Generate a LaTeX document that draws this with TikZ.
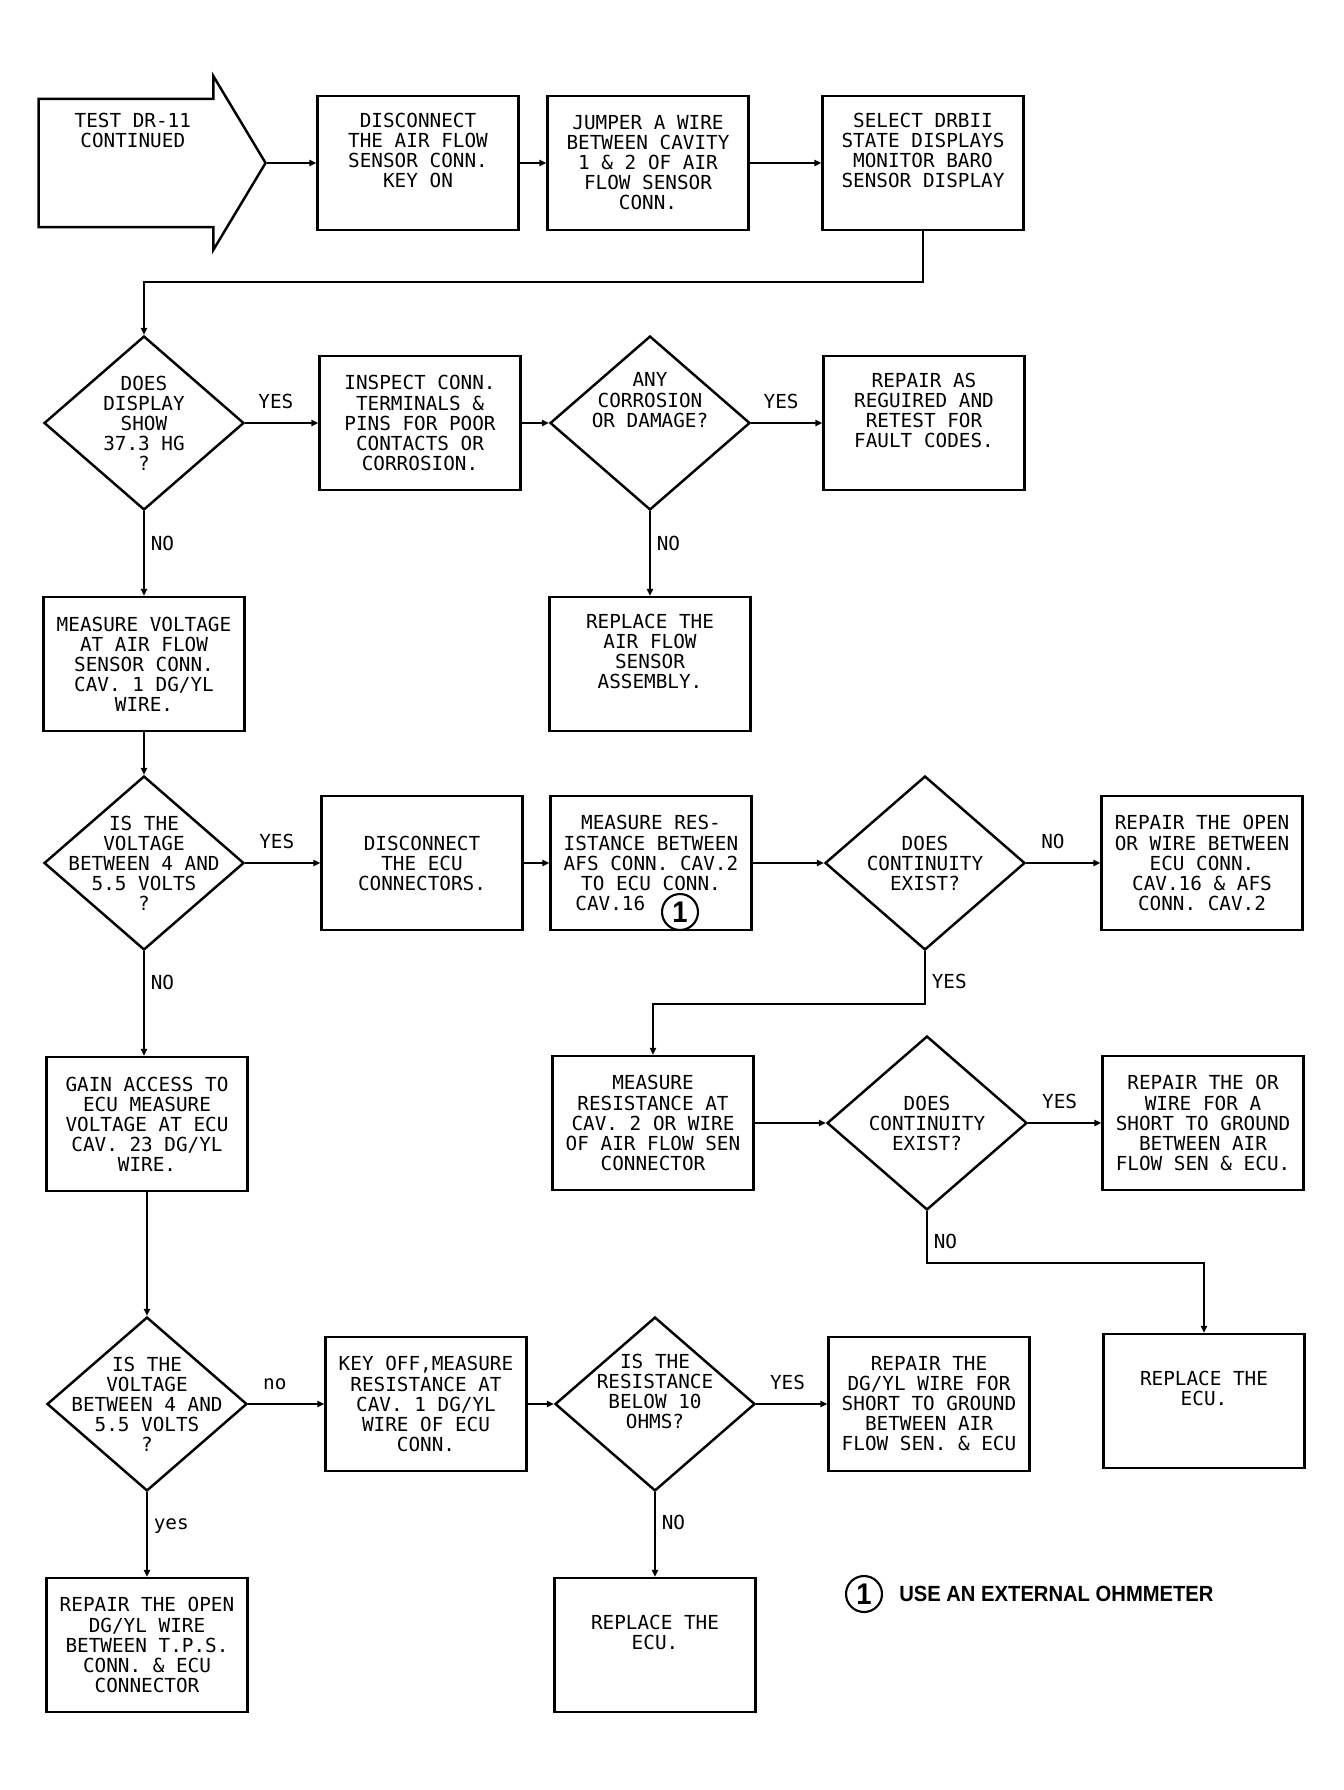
\documentclass[tikz,border=0pt]{standalone}
\usepackage{fontspec}
\usepackage{tikz}
\usetikzlibrary{positioning, arrows.meta, shapes.geometric, shapes.arrows}
\newfontfamily\plotfont{DejaVu Sans Mono}
\newfontfamily\notefont[FakeStretch=0.92]{Liberation Sans}
\newcommand{\flowfont}{\plotfont\fontsize{11pt}{11.4pt}\selectfont}
\tikzset{
  stepbox/.style={
    draw,
    line width=1.4pt,
    minimum width=4.02cm,
    minimum height=2.68cm,
    inner sep=2pt,
    align=center,
    font=\flowfont
  },
  query/.style={
    draw,
    diamond,
    aspect=1.15,
    line width=1.4pt,
    minimum width=4.0cm,
    minimum height=3.48cm,
    inner sep=-12pt,
    align=center,
    font=\flowfont
  },
  entry/.style={
    draw,
    single arrow,
    single arrow tip angle=118,
    single arrow head extend=0.39cm,
    line width=1.4pt,
    minimum height=4.54cm,
    minimum width=3.48cm,
    inner sep=2pt,
    align=center,
    font=\flowfont
  },
  ohmmark/.style={
    draw,
    circle,
    line width=1.2pt,
    minimum size=0.72cm,
    inner sep=0pt,
    font=\notefont\bfseries\fontsize{17pt}{17pt}\selectfont
  },
  flowline/.style={
    draw,
    -{Triangle[length=4pt,width=3.6pt]},
    line width=1.1pt,
    font=\flowfont
  },
  every edge/.style={flowline}
}

\begin{document}
\begin{tikzpicture}[x=0.02cm, y=-0.02cm]
  \useasboundingbox (0,0) rectangle (1344,1790);

  % top row
  \node[entry, anchor=tip] (start) at (267,163) {TEST DR-11\\CONTINUED\\\strut\\\strut\\\strut};
  \node[stepbox] (unplug) at (418,163) {DISCONNECT\\THE AIR FLOW\\SENSOR CONN.\\KEY ON\\\strut};
  \node[stepbox] (jumper) at (648,163) {JUMPER A WIRE\\BETWEEN CAVITY\\1 \& 2 OF AIR\\FLOW SENSOR\\CONN.};
  \node[stepbox] (baro) at (923,163) {SELECT DRBII\\STATE DISPLAYS\\MONITOR BARO\\SENSOR DISPLAY\\\strut};

  % baro reading
  \node[query] (showhg) at (144,423) {DOES\\DISPLAY\\SHOW\\37.3 HG\\?};
  \node[stepbox] (inspect) at (420,423) {INSPECT CONN.\\TERMINALS \&\\PINS FOR POOR\\CONTACTS OR\\CORROSION.};
  \node[query] (corrode) at (650,423) {ANY\\CORROSION\\OR DAMAGE?\\\strut\\\strut};
  \node[stepbox] (retest) at (924,423) {REPAIR AS\\REGUIRED AND\\RETEST FOR\\FAULT CODES.\\\strut};
  \node[stepbox] (measvolt) at (144,664) {MEASURE VOLTAGE\\AT AIR FLOW\\SENSOR CONN.\\CAV. 1 DG/YL\\WIRE.};
  \node[stepbox] (newafs) at (650,664) {REPLACE THE\\AIR FLOW\\SENSOR\\ASSEMBLY.\\\strut};

  % voltage at sensor
  \node[query] (voltafs) at (144,863) {IS THE\\VOLTAGE\\BETWEEN 4 AND\\5.5 VOLTS\\?};
  \node[stepbox] (unplugecu) at (422,863) {DISCONNECT\\THE ECU\\CONNECTORS.};
  \node[stepbox] (ohmsig) at (651,863) {MEASURE RES-\\ISTANCE BETWEEN\\AFS CONN. CAV.2\\TO ECU CONN.\\CAV.16\phantom{1234567}};
  \node[ohmmark] (ohma) at (680,912) {1};
  \node[query] (contsig) at (925,863) {DOES\\CONTINUITY\\EXIST?};
  \node[stepbox] (fixopen) at (1202,863) {REPAIR THE OPEN\\OR WIRE BETWEEN\\ECU CONN.\\CAV.16 \& AFS\\CONN. CAV.2};

  % short to ground
  \node[stepbox] (ecuvolt) at (147,1124) {GAIN ACCESS TO\\ECU MEASURE\\VOLTAGE AT ECU\\CAV. 23 DG/YL\\WIRE.};
  \node[stepbox] (ohmgnd) at (653,1123) {MEASURE\\RESISTANCE AT\\CAV. 2 OR WIRE\\OF AIR FLOW SEN\\CONNECTOR};
  \node[query] (contgnd) at (927,1123) {DOES\\CONTINUITY\\EXIST?};
  \node[stepbox] (fixshort) at (1203,1123) {REPAIR THE OR\\WIRE FOR A\\SHORT TO GROUND\\BETWEEN AIR\\FLOW SEN \& ECU.};
  \node[stepbox] (newecua) at (1204,1401) {REPLACE THE\\ECU.\\\strut};

  % voltage at ecu
  \node[query] (voltecu) at (147,1404) {IS THE\\VOLTAGE\\BETWEEN 4 AND\\5.5 VOLTS\\?};
  \node[stepbox] (keyoff) at (426,1404) {KEY OFF,MEASURE\\RESISTANCE AT\\CAV. 1 DG/YL\\WIRE OF ECU\\CONN.};
  \node[query] (below10) at (655,1404) {IS THE\\RESISTANCE\\BELOW 10\\OHMS?\\\strut};
  \node[stepbox] (fixdgyl) at (929,1404) {REPAIR THE\\DG/YL WIRE FOR\\SHORT TO GROUND\\BETWEEN AIR\\FLOW SEN. \& ECU};
  \node[stepbox] (newecub) at (655,1645) {REPLACE THE\\ECU.\\\strut};
  \node[stepbox] (fixtps) at (147,1645) {REPAIR THE OPEN\\DG/YL WIRE\\BETWEEN T.P.S.\\CONN. \& ECU\\CONNECTOR};

  % footnote
  \node[ohmmark] (ohmb) at (864,1594) {1};
  \node[right=0.2cm of ohmb, font=\notefont\bfseries\fontsize{12.5pt}{12.5pt}\selectfont] (notetext) {USE AN EXTERNAL OHMMETER};

  \path (start.tip) edge (unplug.west)
        (unplug.east) edge (jumper.west)
        (jumper.east) edge (baro.west);
  \draw[flowline] (baro.south) -- ++(0,51) -| (showhg.north);

  \path (showhg.east) edge node[pos=0.42, above=4pt] {YES} (inspect.west)
        (inspect.east) edge (corrode.west)
        (corrode.east) edge node[pos=0.42, above=4pt] {YES} (retest.west)
        (showhg.south) edge node[pos=0.38, right] {NO} (measvolt.north)
        (corrode.south) edge node[pos=0.38, right] {NO} (newafs.north)
        (measvolt.south) edge (voltafs.north);

  \path (voltafs.east) edge node[pos=0.42, above=4pt] {YES} (unplugecu.west)
        (unplugecu.east) edge (ohmsig.west)
        (ohmsig.east) edge (contsig.west)
        (contsig.east) edge node[pos=0.36, above=4pt] {NO} (fixopen.west)
        (voltafs.south) edge node[pos=0.3, right] {NO} (voltafs.south |- ecuvolt.north);
  \draw[flowline] (contsig.south) -- node[pos=0.58, right] {YES} ++(0,53) -| (ohmgnd.north);

  \path (ohmgnd.east) edge (contgnd.west)
        (contgnd.east) edge node[pos=0.43, above=4pt] {YES} (fixshort.west)
        (ecuvolt.south) edge (voltecu.north);
  \draw[flowline] (contgnd.south) -- node[pos=0.58, right] {NO} ++(0,52) -| (newecua.north);

  \path (voltecu.east) edge node[pos=0.35, above=4pt] {no} (keyoff.west)
        (keyoff.east) edge (below10.west)
        (below10.east) edge node[pos=0.44, above=4pt] {YES} (fixdgyl.west)
        (below10.south) edge node[pos=0.36, right] {NO} (newecub.north)
        (voltecu.south) edge node[pos=0.4, right] {yes} (fixtps.north);
\end{tikzpicture}
\end{document}
